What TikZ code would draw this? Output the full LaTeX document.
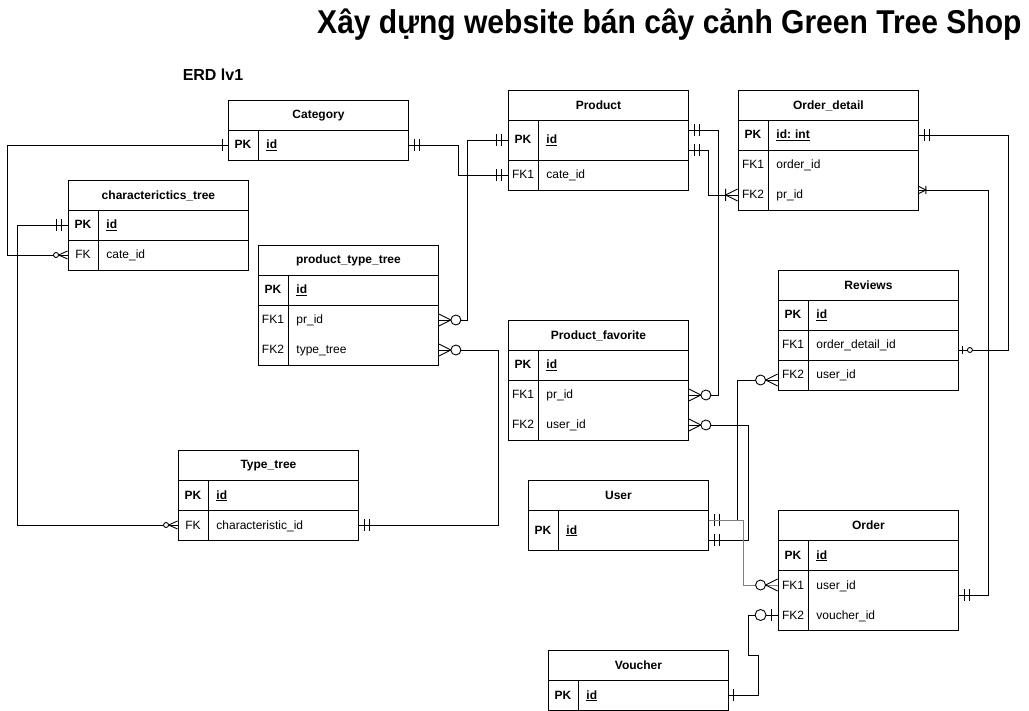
\documentclass[tikz,border=0pt]{standalone}
\usepackage{fontspec}
\setmainfont{Liberation Sans}
\usepackage{graphicx}
\tikzset{
  hdr/.style={draw, anchor=north west, minimum width=180pt, minimum height=30pt, inner sep=0pt, font=\fontsize{12}{14}\selectfont\bfseries},
  key/.style={minimum width=30pt, minimum height=30pt, inner sep=0pt, text height=10pt, text depth=2pt},
  fld/.style={anchor=west, text width=134pt, inner xsep=8pt, inner ysep=0pt, minimum height=30pt, align=left, text height=10pt, text depth=2pt},
  one/.pic={\draw (5,-6) -- (5,6);},
  mone/.pic={\draw (6,-6) -- (6,6) (11,-6) -- (11,6);},
  zmany/.pic={\draw (0,-6) -- (12,0) -- (0,6); \draw[fill=white] (17,0) circle[radius=5pt];},
  zmanys/.pic={\draw (0,-4) -- (9,0) -- (0,4); \draw[fill=white] (11.5,0) circle[radius=2.5pt];},
  omany/.pic={\draw (0,-6) -- (12,0) -- (0,6) (12,-6) -- (12,6);},
  omanys/.pic={\draw (0,-3.5) -- (7,0) -- (0,3.5) (7,-4) -- (7,4);},
  zone/.pic={\draw (6,-6) -- (6,6); \draw[fill=white] (17,0) circle[radius=5.5pt];},
  zones/.pic={\draw (4,-4) -- (4,4); \draw[fill=white] (11,0) circle[radius=2.5pt];},
}
\begin{document}
\begin{tikzpicture}[x=1pt,y=-1pt,line width=0.9pt,font=\fontsize{12}{14}\selectfont]
\useasboundingbox[fill=white] (0,0) rectangle (1029,711);
\node[anchor=east, inner sep=0pt, font=\bfseries\fontsize{33}{38}\selectfont] (title) at (1022,25) {\scalebox{0.91}[1]{Xây dựng website bán cây cảnh Green Tree Shop}};
\node[font=\bfseries\fontsize{16}{19}\selectfont] (erd) at (213,75) {ERD lv1};
% Category
\node[hdr] (cat) at (228,100) {Category};
\draw (228,130) rectangle (408,160);
\draw (258,130) -- (258,160);
\node[key] (cat-pk) at (243,145) {\textbf{PK}};
\node[fld] (cat-id) at (258,145) {\textbf{\underline{id}}};
% Product
\node[hdr] (pr) at (508,90) {Product};
\draw (508,120) rectangle (688,190);
\draw (538,120) -- (538,190);
\draw (508,160) -- (688,160);
\node[key, minimum height=40pt] (pr-pk) at (523,140) {\textbf{PK}};
\node[fld, minimum height=40pt] (pr-id) at (538,140) {\textbf{\underline{id}}};
\node[key] (pr-fk1) at (523,175) {FK1};
\node[fld] (pr-cate) at (538,175) {cate\_id};
% Order_detail
\node[hdr] (od) at (738,90) {Order\_detail};
\draw (738,120) rectangle (918,210);
\draw (768,120) -- (768,210);
\draw (738,150) -- (918,150);
\node[key] (od-pk) at (753,135) {\textbf{PK}};
\node[fld] (od-id) at (768,135) {\textbf{\underline{id:~int}}};
\node[key] (od-fk1) at (753,165) {FK1};
\node[fld] (od-oid) at (768,165) {order\_id};
\node[key] (od-fk2) at (753,195) {FK2};
\node[fld] (od-prid) at (768,195) {pr\_id};
% characterictics_tree
\node[hdr] (ch) at (68,180) {characterictics\_tree};
\draw (68,210) rectangle (248,270);
\draw (98,210) -- (98,270);
\draw (68,240) -- (248,240);
\node[key] (ch-pk) at (83,225) {\textbf{PK}};
\node[fld] (ch-id) at (98,225) {\textbf{\underline{id}}};
\node[key] (ch-fk) at (83,255) {FK};
\node[fld] (ch-cate) at (98,255) {cate\_id};
% product_type_tree
\node[hdr] (pt) at (258,245) {product\_type\_tree};
\draw (258,275) rectangle (438,365);
\draw (288,275) -- (288,365);
\draw (258,305) -- (438,305);
\node[key] (pt-pk) at (273,290) {\textbf{PK}};
\node[fld] (pt-id) at (288,290) {\textbf{\underline{id}}};
\node[key] (pt-fk1) at (273,320) {FK1};
\node[fld] (pt-prid) at (288,320) {pr\_id};
\node[key] (pt-fk2) at (273,350) {FK2};
\node[fld] (pt-type) at (288,350) {type\_tree};
% Product_favorite
\node[hdr] (pf) at (508,320) {Product\_favorite};
\draw (508,350) rectangle (688,440);
\draw (538,350) -- (538,440);
\draw (508,380) -- (688,380);
\node[key] (pf-pk) at (523,365) {\textbf{PK}};
\node[fld] (pf-id) at (538,365) {\textbf{\underline{id}}};
\node[key] (pf-fk1) at (523,395) {FK1};
\node[fld] (pf-prid) at (538,395) {pr\_id};
\node[key] (pf-fk2) at (523,425) {FK2};
\node[fld] (pf-uid) at (538,425) {user\_id};
% Reviews
\node[hdr] (rv) at (778,270) {Reviews};
\draw (778,300) rectangle (958,390);
\draw (808,300) -- (808,390);
\draw (778,330) -- (958,330);
\draw (778,360) -- (958,360);
\node[key] (rv-pk) at (793,315) {\textbf{PK}};
\node[fld] (rv-id) at (808,315) {\textbf{\underline{id}}};
\node[key] (rv-fk1) at (793,345) {FK1};
\node[fld] (rv-odid) at (808,345) {order\_detail\_id};
\node[key] (rv-fk2) at (793,375) {FK2};
\node[fld] (rv-uid) at (808,375) {user\_id};
% Type_tree
\node[hdr] (tt) at (178,450) {Type\_tree};
\draw (178,480) rectangle (358,540);
\draw (208,480) -- (208,540);
\draw (178,510) -- (358,510);
\node[key] (tt-pk) at (193,495) {\textbf{PK}};
\node[fld] (tt-id) at (208,495) {\textbf{\underline{id}}};
\node[key] (tt-fk) at (193,525) {FK};
\node[fld] (tt-chid) at (208,525) {characteristic\_id};
% User
\node[hdr] (us) at (528,480) {User};
\draw (528,510) rectangle (708,550);
\draw (558,510) -- (558,550);
\node[key, minimum height=40pt] (us-pk) at (543,530) {\textbf{PK}};
\node[fld, minimum height=40pt] (us-id) at (558,530) {\textbf{\underline{id}}};
% Order
\node[hdr] (or) at (778,510) {Order};
\draw (778,540) rectangle (958,630);
\draw (808,540) -- (808,630);
\draw (778,570) -- (958,570);
\node[key] (or-pk) at (793,555) {\textbf{PK}};
\node[fld] (or-id) at (808,555) {\textbf{\underline{id}}};
\node[key] (or-fk1) at (793,585) {FK1};
\node[fld] (or-uid) at (808,585) {user\_id};
\node[key] (or-fk2) at (793,615) {FK2};
\node[fld] (or-vid) at (808,615) {voucher\_id};
% Voucher
\node[hdr] (vo) at (548,650) {Voucher};
\draw (548,680) rectangle (728,710);
\draw (578,680) -- (578,710);
\node[key] (vo-pk) at (563,695) {\textbf{PK}};
\node[fld] (vo-id) at (578,695) {\textbf{\underline{id}}};
% relations
\draw (cat-pk.west) -- ++(-220,0) |- (ch-fk.west);
\pic[rotate=180] at (cat-pk.west) {one};
\pic[rotate=180] at (ch-fk.west) {zmanys};
\draw (ch-pk.west) -- ++(-50,0) |- (tt-fk.west);
\pic[rotate=180] at (ch-pk.west) {mone};
\pic[rotate=180] at (tt-fk.west) {zmanys};
\draw (cat-id.east) -- ++(50,0) |- (pr-fk1.west);
\pic at (cat-id.east) {mone};
\pic[rotate=180] at (pr-fk1.west) {mone};
\draw (pr-pk.west) -- ++(-40,0) |- (pt-prid.east);
\pic[rotate=180] at (pr-pk.west) {mone};
\pic at (pt-prid.east) {zmany};
\draw (pt-type.east) -- ++(60,0) |- (tt-chid.east);
\pic at (pt-type.east) {zmany};
\pic at (tt-chid.east) {mone};
\draw ([yshift=10pt]pr-id.east) -- ++(30,0) |- (pf-prid.east);
\pic at ([yshift=10pt]pr-id.east) {mone};
\pic at (pf-prid.east) {zmany};
\draw ([yshift=-10pt]pr-id.east) -- ++(20,0) |- (od-fk2.west);
\pic at ([yshift=-10pt]pr-id.east) {mone};
\pic[rotate=180] at (od-fk2.west) {omany};
\draw (od-id.east) -- ++(90,0) |- ([yshift=-5pt]rv-odid.east);
\pic at (od-id.east) {mone};
\pic at ([yshift=-5pt]rv-odid.east) {zones};
\draw ([yshift=5pt]od-prid.east) -- ++(70,0) |- ([yshift=-10pt]or-uid.east);
\pic at ([yshift=5pt]od-prid.east) {omanys};
\pic at ([yshift=-10pt]or-uid.east) {mone};
\draw ([yshift=-5pt]rv-fk2.west) -- ++(-40,0) |- ([yshift=10pt]us-id.east);
\pic[rotate=180] at ([yshift=-5pt]rv-fk2.west) {zmany};
\pic at ([yshift=10pt]us-id.east) {mone};
\draw (pf-uid.east) -- ++(60,0) |- ([yshift=-10pt]us-id.east);
\pic at (pf-uid.east) {zmany};
\pic at ([yshift=-10pt]us-id.east) {mone};
\draw[gray] ([yshift=10pt]us-id.east) -- ++(35,0) |- (or-fk1.west);
\pic[rotate=180] at (or-fk1.west) {zmany};
\draw (vo-id.east) -- ++(30,0) -- ++(0,-40) -- ++(-10,0) |- (or-fk2.west);
\pic at (vo-id.east) {one};
\pic[rotate=180] at (or-fk2.west) {zone};
\end{tikzpicture}
\end{document}
